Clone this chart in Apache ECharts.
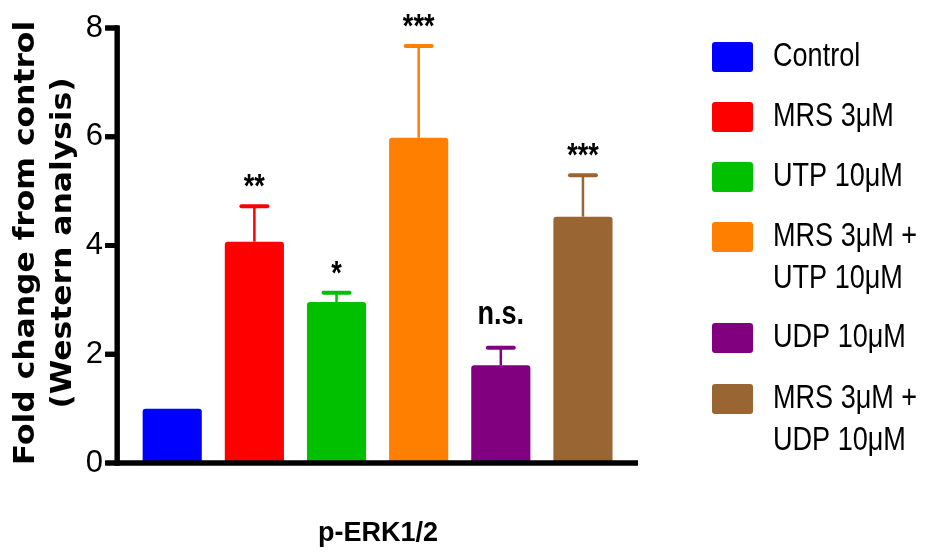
<!DOCTYPE html>
<html>
<head>
<meta charset="utf-8">
<script src="https://cdn.jsdelivr.net/npm/echarts@6/dist/echarts.min.js"></script>
<style>
  html, body { margin: 0; padding: 0; background: #ffffff; }
  #chart { width: 930px; height: 554px; }
</style>
</head>
<body>
<div id="chart"></div>
<script>
// Treatment groups, p-ERK1/2 fold change (mean) and SEM, significance marks
const groups = ['Control', 'MRS 3μM', 'UTP 10μM', 'MRS 3μM +\nUTP 10μM', 'UDP 10μM', 'MRS 3μM +\nUDP 10μM'];
const foldChange = [1.0, 4.07, 2.96, 5.98, 1.80, 4.53];
const sem = [0, 0.65, 0.17, 1.69, 0.32, 0.76];
const significance = ['', '**', '*', '***', 'n.s.', '***'];
const groupColors = ['#0000ff', '#ff0000', '#00c000', '#ff8000', '#800080', '#996633'];
const yTicks = [0, 2, 4, 6, 8];
const xTitle = 'p-ERK1/2';
const yTitle = 'Fold change from control\n(Western analysis)';

const SANS = '"Liberation Sans", Arial, Helvetica, sans-serif';
const CONDENSE = 0.82;          // horizontal squeeze giving a Helvetica-Narrow look
const X_SPINE = -0.67;          // where the left spine crosses the x scale
const X_MIN = -0.94;            // a little room left of the spine for the ticks
const X_MAX = groups.length - 1 + 0.67;

// bar + SEM whisker + significance label, all positioned through the axes
function renderBar(params, api) {
  const x = api.value(0);
  const v = api.value(1);
  const e = api.value(2);
  const mark = significance[params.seriesIndex];
  const color = api.visual('color');
  const base = api.coord([x, 0]);
  const top = api.coord([x, v]);
  const errTop = api.coord([x, v + e]);
  const half = api.size([1, 0])[0] * 0.36;
  const children = [];
  if (e > 0) {
    children.push({
      type: 'line',
      shape: { x1: top[0], y1: top[1], x2: errTop[0], y2: errTop[1] },
      style: { stroke: color, lineWidth: 2.5 }
    });
    children.push({
      type: 'line',
      shape: { x1: errTop[0] - 13, y1: errTop[1], x2: errTop[0] + 13, y2: errTop[1] },
      style: { stroke: color, lineWidth: 4, lineCap: 'round' }
    });
  }
  children.push({
    type: 'rect',
    shape: { x: top[0] - half, y: top[1], width: half * 2, height: base[1] - top[1], r: [3, 3, 0, 0] },
    style: { fill: color }
  });
  if (mark) {
    const isStars = /^\*+$/.test(mark);
    children.push({
      type: 'text',
      x: errTop[0],
      y: errTop[1] - (isStars ? 18 : 33),
      scaleX: CONDENSE,
      style: {
        text: mark,
        x: 0,
        y: 0,
        align: 'center',
        verticalAlign: 'middle',
        fill: '#000',
        font: 'bold 33px ' + SANS
      }
    });
  }
  return { type: 'group', children: children };
}

// heavy Prism-style axis frame: left spine with outward ticks, bottom spine
function frameLines(toPixel) {
  const origin = toPixel([X_SPINE, 0]);
  const yTop = toPixel([X_SPINE, yTicks[yTicks.length - 1]]);
  const xEnd = toPixel([X_MAX, 0]);
  const lines = [
    { x1: origin[0], y1: yTop[1] - 2.5, x2: origin[0], y2: origin[1] + 2.5 },
    { x1: origin[0], y1: origin[1], x2: xEnd[0], y2: xEnd[1] }
  ];
  yTicks.forEach(function (t) {
    const p = toPixel([X_SPINE, t]);
    lines.push({ x1: p[0] - 12, y1: p[1], x2: p[0], y2: p[1] });
  });
  return lines;
}

function renderFrame(params, api) {
  return {
    type: 'group',
    children: frameLines(function (v) { return api.coord(v); }).map(function (s) {
      return { type: 'line', shape: s, style: { stroke: '#000', lineWidth: 5 } };
    })
  };
}

const series = groups.map(function (name, i) {
  return {
    name: name,
    type: 'custom',
    renderItem: renderBar,
    itemStyle: { color: groupColors[i] },
    encode: { x: 0, y: 1 },
    data: [[i, foldChange[i], sem[i]]]
  };
});
series.push({
  name: 'frame',
  type: 'custom',
  z: 10,
  clip: false,
  silent: true,
  renderItem: renderFrame,
  encode: { x: 0, y: 1 },
  data: [[X_SPINE, 0]]
});

// legend swatches (one block per group), labels drawn alongside as condensed text
const swatch = 'path://M3,0H38A3,3,0,0,1,41,3V27A3,3,0,0,1,38,30H3A3,3,0,0,1,0,27V3A3,3,0,0,1,3,0Z';
const legendCenters = [57, 117, 177, 237, 338, 399];
const legends = groups.map(function (name, i) {
  return {
    data: [name],
    left: 712,
    top: legendCenters[i] - 15,
    orient: 'vertical',
    padding: 0,
    itemWidth: 41,
    itemHeight: 30,
    icon: swatch,
    selectedMode: false,
    formatter: function () { return ''; },
    textStyle: { fontSize: 10 }
  };
});
const legendLabels = groups.map(function (name, i) {
  return {
    type: 'text',
    id: 'legend-label-' + i,
    x: 773,
    y: legendCenters[i] - 21,
    scaleX: CONDENSE,
    silent: true,
    style: {
      text: name,
      x: 0,
      y: 0,
      align: 'left',
      verticalAlign: 'top',
      lineHeight: 42,
      fill: '#000',
      font: '33px ' + SANS
    }
  };
});

const chart = echarts.init(document.getElementById('chart'), null, { renderer: 'canvas' });
chart.setOption({
  animation: false,
  grid: { left: 95, top: 28, width: 543, bottom: 91, containLabel: false },
  legend: legends,
  xAxis: {
    type: 'value',
    min: X_MIN,
    max: X_MAX,
    splitLine: { show: false },
    axisTick: { show: false },
    axisLabel: { show: false },
    axisLine: { show: false, onZero: false },
    name: xTitle,
    nameLocation: 'middle',
    nameGap: 57,
    nameTextStyle: { fontFamily: SANS, fontWeight: 'bold', fontSize: 27, color: '#000', padding: [0, 0, 0, 23] }
  },
  yAxis: {
    type: 'value',
    min: yTicks[0],
    max: yTicks[yTicks.length - 1],
    interval: yTicks[1] - yTicks[0],
    offset: -22,
    splitLine: { show: false },
    axisLine: { show: false, onZero: false },
    axisTick: { show: false },
    axisLabel: { margin: 14, fontFamily: SANS, fontSize: 31, color: '#000' }
  },
  graphic: [{
    type: 'text',
    id: 'y-title',
    x: 45,
    y: 243,
    rotation: Math.PI / 2,
    scaleX: 1.12,
    silent: true,
    style: {
      text: yTitle,
      align: 'center',
      verticalAlign: 'middle',
      lineHeight: 37,
      fill: '#000',
      font: 'bold 28px "DejaVu Sans", sans-serif'
    }
  }].concat(legendLabels),
  series: series
});

// the same frame laid on the top layer, located through the grid's scales
const spineGraphics = frameLines(function (v) {
  return chart.convertToPixel({ gridIndex: 0 }, v);
}).map(function (s, i) {
  return { type: 'line', id: 'spine-' + i, z: 100, silent: true, shape: s, style: { stroke: '#000', lineWidth: 5 } };
});
chart.setOption({ graphic: spineGraphics });
</script>
</body>
</html>
